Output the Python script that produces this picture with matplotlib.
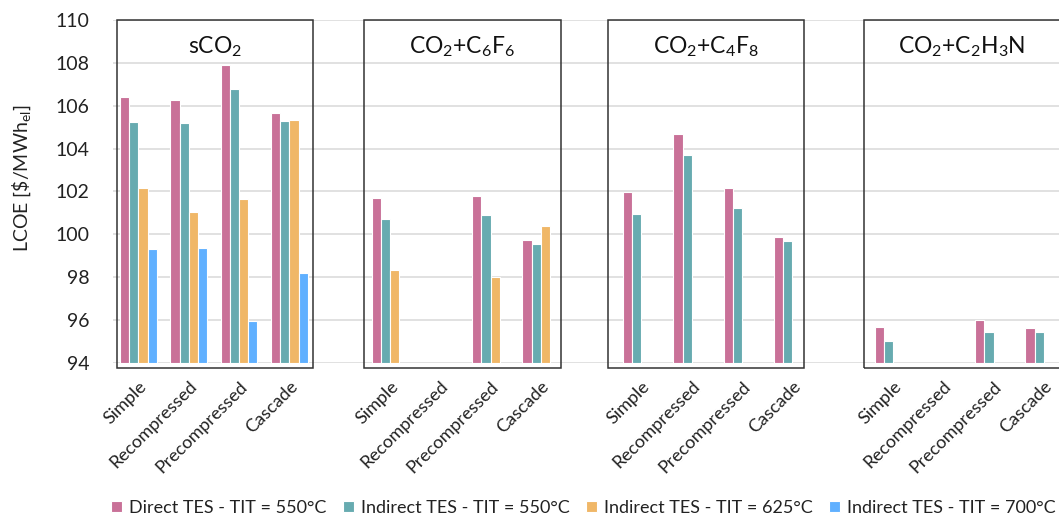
import numpy as np
import matplotlib
matplotlib.use("Agg")
import matplotlib.pyplot as plt
from matplotlib.patches import Rectangle

plt.rcParams['font.family'] = ['Lato', 'DejaVu Sans']
plt.rcParams['mathtext.fontset'] = 'custom'
plt.rcParams['mathtext.rm'] = 'Lato'
plt.rcParams['mathtext.it'] = 'Lato:italic'
plt.rcParams['mathtext.bf'] = 'Lato:bold'

# ---------------- data ----------------
fluids = ['sCO$_2$', 'CO$_2$+C$_6$F$_6$', 'CO$_2$+C$_4$F$_8$', 'CO$_2$+C$_2$H$_3$N']
cycles = ['Simple', 'Recompressed', 'Precompressed', 'Cascade']
series_names = ['Direct TES - TIT = 550°C', 'Indirect TES - TIT = 550°C',
                'Indirect TES - TIT = 625°C', 'Indirect TES - TIT = 700°C']
nan = np.nan
# values per fluid, per cycle (Simple, Recompressed, Precompressed, Cascade)
direct_550 = [[106.40, 106.28, 107.92, 105.65],
              [101.68, nan, 101.79, 99.74],
              [101.96, 104.67, 102.15, 99.89],
              [95.67, nan, 96.02, 95.62]]
indirect_550 = [[105.26, 105.21, 106.77, 105.29],
                [100.73, nan, 100.90, 99.54],
                [100.97, 103.69, 101.22, 99.68],
                [95.03, nan, 95.45, 95.45]]
indirect_625 = [[102.15, 101.03, 101.65, 105.32],
                [98.34, nan, 98.01, 100.41],
                [nan, nan, nan, nan],
                [nan, nan, nan, nan]]
indirect_700 = [[99.33, 99.37, 95.98, 98.18],
                [nan, nan, nan, nan],
                [nan, nan, nan, nan],
                [nan, nan, nan, nan]]
y_ticks = [94, 96, 98, 100, 102, 104, 106, 108, 110]

# ---------------- style ----------------
colors = ['#C97198', '#67ABB0', '#F0B767', '#60B0FF']
all_series = [direct_550, indirect_550, indirect_625, indirect_700]

fig = plt.figure(figsize=(10.59, 5.17), dpi=100)
ax = fig.add_axes([0.107, 0.2979, 0.9025, 0.6634])

n_cyc = len(cycles)
slot_per_group = n_cyc + 1
positions = []
labels = []
for g in range(len(fluids)):
    for c in range(n_cyc):
        positions.append(g * slot_per_group + c)
        labels.append(cycles[c])
positions = np.array(positions, dtype=float)

bw = 0.183
for s, (vals, col, name) in enumerate(zip(all_series, colors, series_names)):
    flat = np.array(vals, dtype=float).ravel()
    ax.bar(positions + (s - 1.5) * bw, flat - y_ticks[0], bottom=y_ticks[0],
           width=bw, color=col, edgecolor='white', linewidth=0.8,
           label=name, zorder=3)

ax.set_ylim(y_ticks[0], y_ticks[-1])
ax.set_xlim(-0.5, len(fluids) * slot_per_group - 1 - 0.5)
ax.set_yticks(y_ticks)
ax.set_yticklabels([str(v) for v in y_ticks])
ax.set_xticks(positions)
ax.set_xticklabels(labels, rotation=45, ha='right', rotation_mode='anchor')
ax.tick_params(axis='y', length=0, labelsize=14, colors='#222222', pad=17)
ax.tick_params(axis='x', length=0, labelsize=13, colors='#222222', pad=11)
ax.yaxis.grid(True, color='#D9D9D9', linewidth=1.1, zorder=0)
ax.set_axisbelow(True)
for sp in ax.spines.values():
    sp.set_visible(False)

ax.set_ylabel(r'LCOE [\$/MWh$_{\mathrm{el}}$]', fontsize=14, color='#222222')
ax.yaxis.set_label_coords(-0.084, 0.54)

# boxes around each fluid group
box_left = [-0.43, 4.49, 9.34, 14.42]
box_w = 3.9
box_bottom = 93.78
for g, name in enumerate(fluids):
    r = Rectangle((box_left[g], box_bottom), box_w, y_ticks[-1] - box_bottom,
                  fill=False, edgecolor='#333333', linewidth=1.1,
                  clip_on=False, zorder=5)
    ax.add_patch(r)
    ax.text(box_left[g] + box_w / 2, 108.74, name, ha='center', va='center',
            fontsize=16.5, color='#111111', zorder=6)

leg = fig.legend(loc='center', bbox_to_anchor=(0.551, 0.018), ncol=4, frameon=False,
                 fontsize=13, handlelength=0.6, handleheight=0.6,
                 handletextpad=0.4, columnspacing=0.9)
for t in leg.get_texts():
    t.set_color('#222222')

fig.savefig('out.png', dpi=100)
